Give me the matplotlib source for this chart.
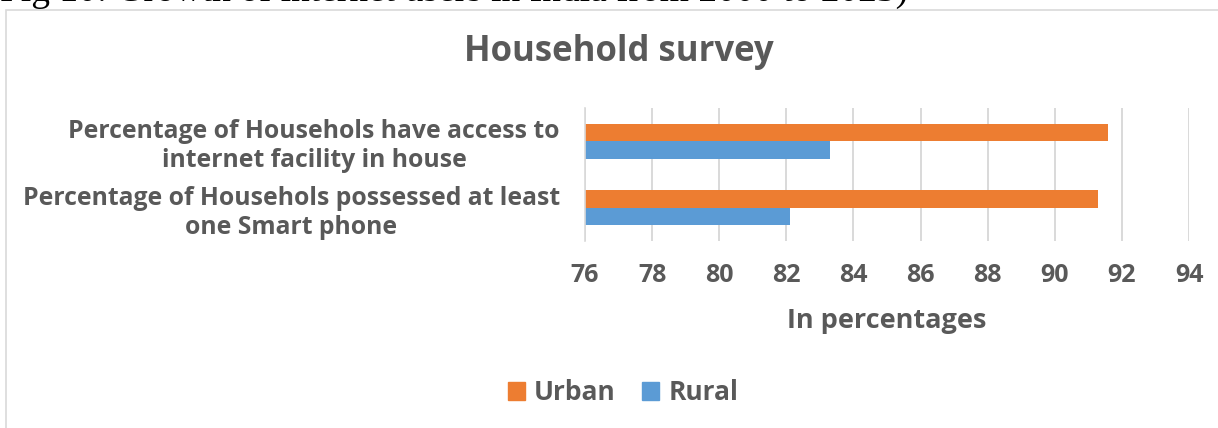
import matplotlib.pyplot as plt
from matplotlib.patches import Patch, Rectangle

# data
categories = ["Percentage of Househols have access to\ninternet facility in house",
              "Percentage of Househols possessed at least\none Smart phone"]
urban = [91.6, 91.3]
rural = [83.3, 82.1]
xticks = [76, 78, 80, 82, 84, 86, 88, 90, 92, 94]

orange = "#ED7D31"
blue = "#5B9BD5"
grey = "#595959"
gridc = "#D9D9D9"

plt.rcParams['font.family'] = ['Open Sans', 'DejaVu Sans']
plt.rcParams['font.weight'] = 'bold'

fig = plt.figure(figsize=(12.18, 4.28), dpi=100)

# chart border (cropped on right / bottom)
fig.patches.append(Rectangle((6 / 1218, -0.1), 1.2, 1 - 9.5 / 428 + 0.1,
                             transform=fig.transFigure, fill=False,
                             edgecolor=gridc, linewidth=1.2))

# caption from the page above, cut at the top edge
fig.text(0.0, 1 - 0.5 / 428, "Fig 10: Growth of internet users in India from 2000 to 2023)",
         family="Liberation Serif", fontweight="normal", fontsize=27,
         ha="left", va="baseline", color="black")

ax = fig.add_axes([585 / 1218, 1 - 241 / 428, 604 / 1218, 133 / 428])

pos = [1, 0]
h = 0.26
ax.barh([p + h / 2 for p in pos], urban, height=h, left=0, color=orange, label="Urban", zorder=3)
ax.barh([p - h / 2 for p in pos], rural, height=h, left=0, color=blue, label="Rural", zorder=3)

ax.set_xlim(76, 94)
ax.set_ylim(-0.5, 1.5)
ax.set_xticks(xticks)
ax.set_xticklabels([str(t) for t in xticks])
ax.set_yticks(pos)
ax.set_yticklabels(categories, multialignment="center", linespacing=1.2)

ax.xaxis.grid(True, color=gridc, linewidth=1.4, zorder=0)
ax.tick_params(axis="x", length=0, pad=16, labelsize=18, labelcolor=grey)
ax.tick_params(axis="y", length=0, pad=18, labelsize=17.8, labelcolor=grey)
for s in ["top", "right", "bottom"]:
    ax.spines[s].set_visible(False)
ax.spines["left"].set_color(gridc)
ax.spines["left"].set_linewidth(1.2)
ax.spines["left"].set_zorder(4)

ax.set_xlabel("In percentages", fontsize=19.5, color=grey, fontweight="bold", labelpad=14)

fig.text(619 / 1218, 1 - 52 / 428, "Household survey", fontsize=25, fontweight="bold",
         color=grey, ha="center", va="center")

handles = [Patch(color=orange, label="Urban"), Patch(color=blue, label="Rural")]
fig.legend(handles=handles, loc="center", bbox_to_anchor=(623 / 1218, 1 - 393 / 428),
           ncol=2, frameon=False, fontsize=19, labelcolor=grey,
           handlelength=0.65, handleheight=0.65, handletextpad=0.35, columnspacing=1.0)

fig.savefig("out.png", dpi=100)
